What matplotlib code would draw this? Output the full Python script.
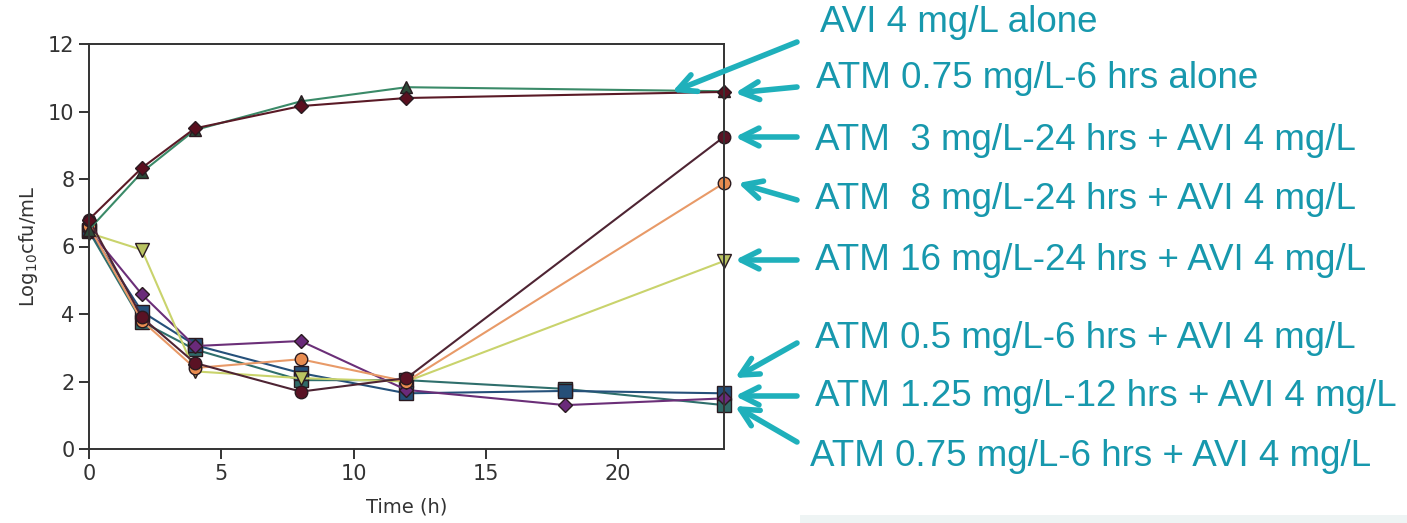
import matplotlib.pyplot as plt
from matplotlib.patches import Rectangle

W, H = 1407, 523

# time points (h)
t_full = [0, 2, 4, 8, 12, 24]
t_long = [0, 2, 4, 8, 12, 18, 24]

avi_alone = [6.5, 8.2, 9.45, 10.3, 10.72, 10.6]
atm075_alone = [6.8, 8.33, 9.5, 10.16, 10.4, 10.58]
atm3_avi = [6.8, 3.9, 2.55, 1.7, 2.1, 9.25]
atm8_avi = [6.6, 3.8, 2.4, 2.66, 2.0, 7.88]
atm16_avi = [6.4, 5.9, 2.3, 2.1, 2.0, 5.57]
atm05_avi = [6.5, 4.58, 3.05, 3.2, 1.75, 1.3, 1.5]
atm125_avi = [6.5, 4.07, 3.08, 2.25, 1.65, 1.72, 1.65]
atm075_avi = [6.45, 3.77, 2.95, 2.04, 2.04, 1.78, 1.3]

labels = ['AVI 4 mg/L alone',
          'ATM 0.75 mg/L-6 hrs alone',
          'ATM  3 mg/L-24 hrs + AVI 4 mg/L',
          'ATM  8 mg/L-24 hrs + AVI 4 mg/L',
          'ATM 16 mg/L-24 hrs + AVI 4 mg/L',
          'ATM 0.5 mg/L-6 hrs + AVI 4 mg/L',
          'ATM 1.25 mg/L-12 hrs + AVI 4 mg/L',
          'ATM 0.75 mg/L-6 hrs + AVI 4 mg/L']

fig = plt.figure(figsize=(W / 100, H / 100), dpi=100)
ax = fig.add_axes([89 / W, 1 - 449 / H, (724 - 89) / W, (449 - 44) / H])

edge = '#2a1a20'
style = dict(lw=1.5, markeredgecolor=edge, markeredgewidth=1.0, clip_on=False)

ax.plot(t_long, atm075_avi, marker='s', ms=10, color='#2f6f6c', markerfacecolor='#2f6a68', **style)
ax.plot(t_long, atm125_avi, marker='s', ms=10, color='#25507a', markerfacecolor='#254f78', **style)
ax.plot(t_long, atm05_avi, marker='D', ms=7.5, color='#6b2f78', markerfacecolor='#6a2a7a', **style)
ax.plot(t_full, atm16_avi, marker='v', ms=10, color='#c9d36c', markerfacecolor='#b9c362', **style)
ax.plot(t_full, atm8_avi, marker='o', ms=9, color='#e89a68', markerfacecolor='#e88c50', **style)
ax.plot(t_full, atm3_avi, marker='o', ms=9, color='#4e2433', markerfacecolor='#5a1224', **style)
ax.plot(t_full, avi_alone, marker='^', ms=9, color='#3a8a68', markerfacecolor='#2c4a38', **style)
ax.plot(t_full, atm075_alone, marker='D', ms=7.5, color='#5a1a26', markerfacecolor='#5a0f1f', **style)

ax.set_xlim(0, 24)
ax.set_ylim(0, 12)
ax.set_xticks([0, 5, 10, 15, 20])
ax.set_yticks([0, 2, 4, 6, 8, 10, 12])
for s in ax.spines.values():
    s.set_color('#333333')
    s.set_linewidth(1.4)
ax.tick_params(direction='out', length=7, width=1.4, color='#333333',
               labelsize=15, labelcolor='#333333')
ax.set_xlabel('Time (h)', fontsize=14, color='#333333', labelpad=10)
ax.set_ylabel('Log$_{10}$cfu/mL', fontsize=14, color='#333333', labelpad=6)

# annotation texts on the right
txt_color = '#1798ad'
arr_color = '#1fb0bb'
text_pos = [(820, 22), (816, 78), (815, 140), (815, 200), (815, 260),
            (815, 338), (815, 396), (810, 456)]
for (x, y), lab in zip(text_pos, labels):
    fig.text(x / W, 1 - y / H, lab, fontsize=26.5, color=txt_color,
             family='Liberation Sans', va='center', ha='left')

arrows = [((797, 42), (672, 92)), ((797, 87), (735, 93)), ((797, 137), (735, 137)),
          ((797, 200), (738, 183)), ((797, 260), (735, 260)), ((797, 343), (735, 378)),
          ((797, 396), (735, 396)), ((797, 442), (735, 406))]
for (x0, y0), (x1, y1) in arrows:
    fig.add_artist(plt.Annotation('', xy=(x1 / W, 1 - y1 / H), xytext=(x0 / W, 1 - y0 / H),
                                  xycoords='figure fraction', textcoords='figure fraction',
                                  arrowprops=dict(arrowstyle='->', lw=4, color=arr_color,
                                                  mutation_scale=32, shrinkA=0, shrinkB=0)))

fig.patches.append(Rectangle((800 / W, 0), 1 - 800 / W, 8 / H, transform=fig.transFigure,
                             facecolor='#eef4f4', edgecolor='none'))

fig.savefig('out.png', dpi=100)
